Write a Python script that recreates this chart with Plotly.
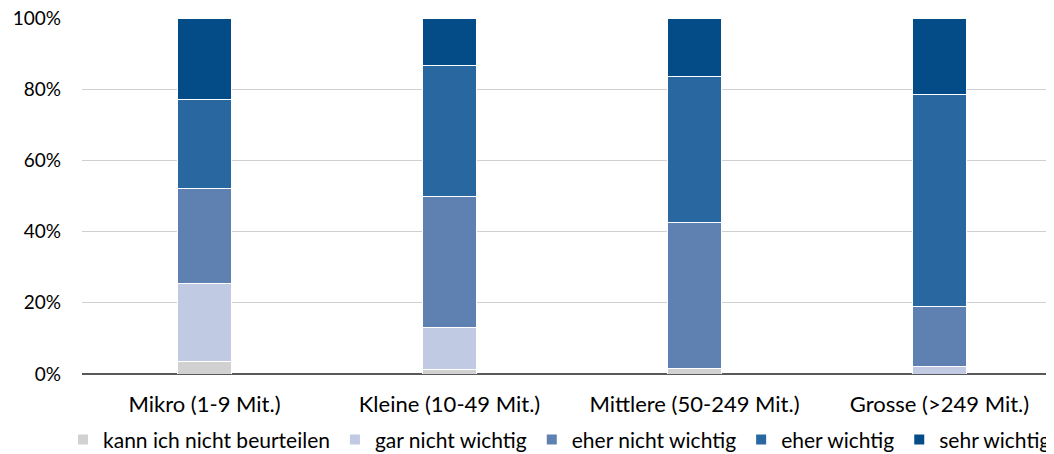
import plotly.graph_objects as go

categories = ["Mikro (1-9 Mit.)", "Kleine (10-49 Mit.)", "Mittlere (50-249 Mit.)", "Grosse (>249 Mit.)"]
series_names = ["kann ich nicht beurteilen", "gar nicht wichtig", "eher nicht wichtig", "eher wichtig", "sehr wichtig"]
kann_nicht = [3.5, 1.3, 1.6, 0.0]
gar_nicht = [22.0, 11.8, 0.0, 2.2]
eher_nicht = [26.5, 36.9, 41.0, 16.9]
eher_wichtig = [25.0, 36.7, 41.0, 59.4]
sehr_wichtig = [23.0, 13.3, 16.4, 21.5]
colors = ["#D1D1D1", "#C1CAE3", "#5E81B1", "#28679F", "#044C87"]

values = [kann_nicht, gar_nicht, eher_nicht, eher_wichtig, sehr_wichtig]

FONT = "Lato"
fig = go.Figure()
for name, vals, col in zip(series_names, values, colors):
    fig.add_trace(go.Bar(
        x=categories, y=vals, name=name,
        marker=dict(color=col, line=dict(color="white", width=1)),
        width=0.22,
    ))

fig.update_layout(
    barmode="stack",
    width=1054, height=446,
    margin=dict(l=74, r=12, t=10, b=80, autoexpand=False),
    paper_bgcolor="white", plot_bgcolor="white",
    font=dict(family=FONT, size=20, color="#000000"),
    showlegend=True,
    legend=dict(orientation="h", x=-0.0196, xanchor="left",
                y=-0.185, yanchor="middle",
                font=dict(size=21), itemwidth=30, traceorder="normal",
                itemsizing="constant", tracegroupgap=0),
    xaxis=dict(range=[-0.5, 3.451], showgrid=False, ticks="", showline=False,
               tickfont=dict(size=22), automargin=False, ticklabelstandoff=15),
    yaxis=dict(range=[0, 100], tickvals=[0, 20, 40, 60, 80, 100],
               ticktext=["0%", "20%", "40%", "60%", "80%", "100%"],
               showgrid=True, gridcolor="#D0D0D0", gridwidth=1,
               zeroline=True, zerolinecolor="#595959", zerolinewidth=1.5,
               showline=False, ticks="", ticklabelstandoff=20,
               ticklabeloverflow="allow",
               tickfont=dict(size=19), automargin=False),
)
fig.write_html("out.html")
